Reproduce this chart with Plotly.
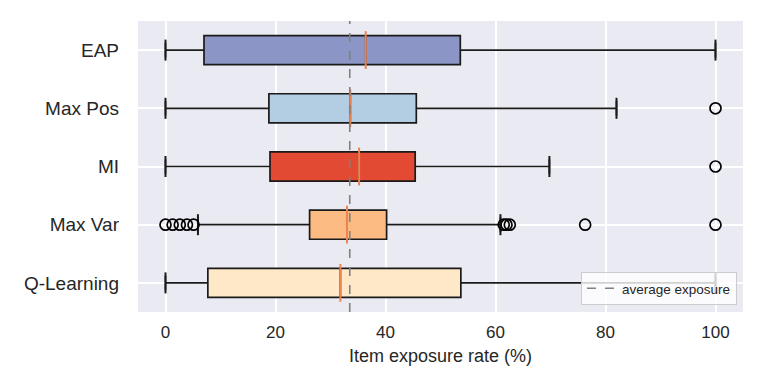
import plotly.graph_objects as go

# Methods, top to bottom
methods = ["EAP", "Max Pos", "MI", "Max Var", "Q-Learning"]
colors = ["#8c96c6", "#b3cde3", "#e34a33", "#fdbb84", "#fee8c8"]

# Box statistics (item exposure rate, %)
lower = [0.0, 0.0, 0.0, 5.9, 0.0]
q1 = [7.0, 18.8, 19.0, 26.2, 7.7]
median = [36.4, 33.6, 35.2, 33.0, 31.8]
q3 = [53.6, 45.6, 45.4, 40.2, 53.7]
upper = [100.0, 82.0, 69.8, 60.9, 100.0]

# Outliers per method
outliers = {
    "EAP": [],
    "Max Pos": [100.0],
    "MI": [100.0],
    "Max Var": [0.0, 1.3, 2.6, 3.9, 5.1, 61.5, 62.0, 62.6, 76.3, 100.0],
    "Q-Learning": [],
}

avg_exposure = 33.5

fig = go.Figure()

for m, c, lo, a, med, b, hi in zip(methods, colors, lower, q1, median, q3, upper):
    fig.add_trace(
        go.Box(
            y=[m],
            q1=[a],
            median=[med],
            q3=[b],
            lowerfence=[lo],
            upperfence=[hi],
            orientation="h",
            fillcolor=c,
            line=dict(color="#1a1a1a", width=1.7),
            width=0.5,
            boxpoints=False,
            showlegend=False,
            hoverinfo="skip",
        )
    )

# whisker caps
fig.add_trace(
    go.Scatter(
        x=lower + upper,
        y=methods + methods,
        mode="markers",
        marker=dict(symbol="line-ns", size=15, line=dict(color="#1a1a1a", width=2)),
        showlegend=False,
        hoverinfo="skip",
    )
)

# medians in orange
fig.add_trace(
    go.Scatter(
        x=median,
        y=methods,
        mode="markers",
        marker=dict(symbol="line-ns", size=27, line=dict(color="#ec8350", width=2)),
        showlegend=False,
        hoverinfo="skip",
    )
)

# outliers
ox, oy = [], []
for m in methods:
    ox += outliers[m]
    oy += [m] * len(outliers[m])
fig.add_trace(
    go.Scatter(
        x=ox,
        y=oy,
        mode="markers",
        marker=dict(symbol="circle-open", size=11, color="black", line=dict(width=1.7)),
        showlegend=False,
        hoverinfo="skip",
    )
)

# average exposure line
fig.add_vline(x=avg_exposure, line=dict(color="gray", width=1.6, dash="dash"))
fig.add_trace(
    go.Scatter(
        x=[None],
        y=[None],
        mode="lines",
        line=dict(color="gray", width=1.6, dash="dash"),
        name="average exposure",
    )
)

fig.update_layout(
    width=767,
    height=384,
    margin=dict(l=130, r=32, t=13, b=80),
    paper_bgcolor="white",
    plot_bgcolor="#eaeaf2",
    font=dict(family="Liberation Sans, Arial", size=17, color="#262626"),
    legend=dict(
        x=0.99,
        y=0.024,
        xanchor="right",
        yanchor="bottom",
        bgcolor="rgba(255,255,255,0.8)",
        bordercolor="#cccccc",
        borderwidth=1,
        font=dict(size=13.5),
        itemwidth=30,
    ),
)
fig.update_xaxes(
    range=[-5, 105],
    tickvals=[0, 20, 40, 60, 80, 100],
    tickfont=dict(size=17),
    ticklabelstandoff=8,
    showgrid=True,
    gridcolor="white",
    gridwidth=1.5,
    zeroline=False,
    showline=False,
    title=dict(text="Item exposure rate (%)", font=dict(size=18), standoff=8),
)
fig.update_yaxes(
    categoryorder="array",
    categoryarray=methods,
    range=[4.5, -0.5],
    tickfont=dict(size=19),
    showgrid=True,
    gridcolor="white",
    gridwidth=1.5,
    zeroline=False,
    showline=False,
    ticklabelstandoff=18,
)

fig.write_html("out.html")
